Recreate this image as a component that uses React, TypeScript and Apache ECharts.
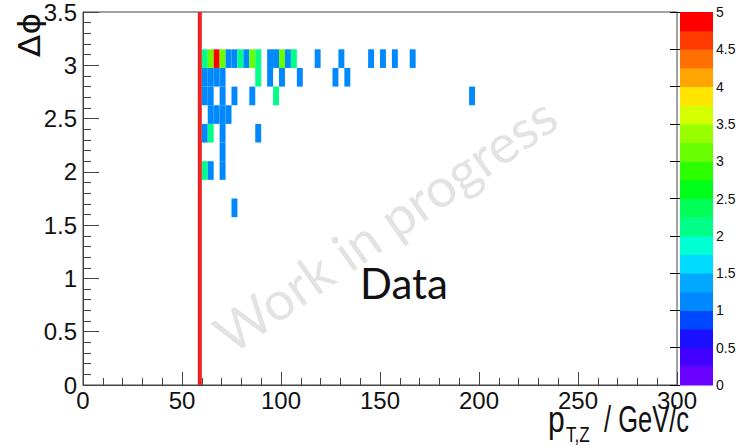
import React, { useEffect, useRef } from "react";
import * as echarts from "echarts";

// ---- binning ----
const PT_BIN = 3; // GeV/c
const DPHI_BIN = 0.175;
const PT_MIN = 0;
const PT_MAX = 300;
const DPHI_MIN = 0;
const DPHI_MAX = 3.5;
const Z_MAX = 5;
const PT_CUT = 59;

// ---- cell contents, per delta-phi row (lower edge) ----
const dphiRows = [2.975, 2.8, 2.625, 2.45, 2.275, 2.1, 1.925, 1.575];
const ptRow0 = [60, 63, 66, 69, 72, 75, 78, 81, 84, 87, 93, 96, 99, 102, 105, 117, 129, 144, 150, 156, 165];
const nRow0 = [2, 3, 5, 3, 1, 1, 2, 1, 3, 2, 1, 1, 3, 1, 2, 1, 1, 1, 1, 1, 1];
const ptRow1 = [60, 63, 66, 69, 87, 93, 99, 108, 126, 132];
const nRow1 = [1, 1, 1, 1, 2, 1, 1, 1, 1, 1];
const ptRow2 = [60, 63, 69, 75, 84, 96, 195];
const nRow2 = [1, 1, 1, 1, 1, 2, 1];
const ptRow3 = [63, 66, 69, 72];
const nRow3 = [1, 1, 1, 1];
const ptRow4 = [60, 63, 69, 87];
const nRow4 = [1, 2, 1, 1];
const ptRow5 = [69];
const nRow5 = [1];
const ptRow6 = [60, 63, 69];
const nRow6 = [2, 1, 1];
const ptRow7 = [75];
const nRow7 = [1];
const ptRows = [ptRow0, ptRow1, ptRow2, ptRow3, ptRow4, ptRow5, ptRow6, ptRow7];
const nRows = [nRow0, nRow1, nRow2, nRow3, nRow4, nRow5, nRow6, nRow7];

// ---- colour palette (20 contour levels, 0..5) ----
const paletteColors = [
  "#6a00ff", "#4400ff", "#1a10ff", "#0048ff", "#0088ff",
  "#00a8ff", "#00dcff", "#00ffd2", "#00ff86", "#00ff58",
  "#00ff18", "#2cff00", "#6aff00", "#98ff00", "#d4ff00",
  "#ffe400", "#ffa400", "#ff7000", "#ff3a00", "#ff0000",
];

const LABEL_FONT = "'Liberation Sans Narrow', 'Liberation Sans', Arial, sans-serif";
const TITLE_FONT = "'Liberation Sans', Arial, sans-serif";

function colorFor(v: number): string {
  const step = Z_MAX / paletteColors.length;
  const idx = Math.min(paletteColors.length - 1, Math.max(0, Math.floor(v / step + 1e-9)));
  return paletteColors[idx];
}

export default function App() {
  const ref = useRef<HTMLDivElement>(null);
  useEffect(() => {
    if (!ref.current) return;
    const chart = echarts.init(ref.current, undefined, { renderer: "svg" });

    const heatData: number[][] = [];
    dphiRows.forEach((dphi, r) => {
      ptRows[r].forEach((pt, k) => heatData.push([pt, dphi, nRows[r][k]]));
    });
    const barStep = Z_MAX / paletteColors.length;
    const barData = paletteColors.map((_, i) => [0, i * barStep]);

    const axisColor = "#444";
    const option: any = {
      animation: false,
      grid: [
        { left: 83, top: 12, width: 594, height: 373, show: true, borderColor: axisColor, borderWidth: 1, backgroundColor: "transparent" },
        { left: 680, top: 12, width: 33, height: 373 },
      ],
      xAxis: [
        {
          gridIndex: 0, type: "value", min: PT_MIN, max: PT_MAX, interval: 50,
          axisLine: { show: true, onZero: false, lineStyle: { color: axisColor, width: 1 } },
          axisTick: { show: true, inside: true, length: 13, lineStyle: { color: axisColor } },
          minorTick: { show: true, splitNumber: 5, length: 7, lineStyle: { color: axisColor } },
          splitLine: { show: false },
          axisLabel: { color: "#111", fontSize: 24, fontFamily: LABEL_FONT, margin: 3 },
        },
        { gridIndex: 1, type: "value", min: 0, max: 1, show: false },
      ],
      yAxis: [
        {
          gridIndex: 0, type: "value", min: DPHI_MIN, max: DPHI_MAX, interval: 0.5,
          axisLine: { show: true, onZero: false, lineStyle: { color: axisColor, width: 1 } },
          axisTick: { show: true, inside: true, length: 16, lineStyle: { color: axisColor } },
          minorTick: { show: true, splitNumber: 5, length: 8, lineStyle: { color: axisColor } },
          splitLine: { show: false },
          axisLabel: { color: "#111", fontSize: 24, fontFamily: LABEL_FONT, margin: 6 },
        },
        {
          gridIndex: 1, type: "value", position: "right", min: 0, max: Z_MAX, interval: 0.5,
          axisLine: { show: false },
          axisTick: { show: true, inside: true, length: 10, lineStyle: { color: "#000" } },
          splitLine: { show: false },
          axisLabel: { color: "#111", fontSize: 14, fontFamily: LABEL_FONT, margin: 3 },
        },
      ],
      series: [
        {
          type: "custom",
          xAxisIndex: 0, yAxisIndex: 0,
          data: heatData,
          encode: { x: 0, y: 1 },
          z: 2,
          renderItem: (params: any, api: any) => {
            const x0 = api.value(0);
            const y0 = api.value(1);
            const v = api.value(2);
            const p1 = api.coord([x0, y0 + DPHI_BIN]);
            const p2 = api.coord([x0 + PT_BIN, y0]);
            return {
              type: "rect",
              shape: { x: p1[0], y: p1[1], width: p2[0] - p1[0], height: p2[1] - p1[1] },
              style: { fill: colorFor(v), stroke: null },
            };
          },
        },
        {
          type: "custom",
          xAxisIndex: 1, yAxisIndex: 1,
          data: barData,
          encode: { x: 0, y: 1 },
          renderItem: (params: any, api: any) => {
            const lo = api.value(1);
            const p1 = api.coord([0, lo + barStep]);
            const p2 = api.coord([1, lo]);
            return {
              type: "rect",
              shape: { x: p1[0], y: p1[1], width: p2[0] - p1[0], height: p2[1] - p1[1] + 0.5 },
              style: { fill: paletteColors[params.dataIndex] },
            };
          },
        },
        {
          type: "line",
          xAxisIndex: 0, yAxisIndex: 0,
          data: [[PT_CUT, DPHI_MIN], [PT_CUT, DPHI_MAX]],
          symbol: "none",
          z: 5,
          lineStyle: { color: "#ee2222", width: 4 },
        },
      ],
      graphic: [
        {
          type: "text", x: 385, y: 224, rotation: 0.61, z: 0,
          style: { text: "Work in progress", fontSize: 54, fontFamily: "Lato, 'Open Sans', sans-serif", fill: "rgba(170,170,170,0.33)", textAlign: "center", textVerticalAlign: "middle" },
        },
        {
          type: "text", x: 404, y: 283, z: 100,
          style: { text: "Data", fontSize: 42, fontFamily: "Lato, 'Open Sans', sans-serif", fill: "#111", textAlign: "center", textVerticalAlign: "middle" },
        },
        {
          type: "text", x: 30, y: 35, rotation: Math.PI / 2, z: 100, scaleX: 1.1,
          style: { text: "Δϕ", fontSize: 30, fontFamily: "'DejaVu Sans', 'Liberation Sans', sans-serif", fill: "#111", textAlign: "center", textVerticalAlign: "middle" },
        },
        {
          type: "text", x: 548, y: 438, z: 100, scaleY: 1.2,
          style: { text: "p", fontSize: 30, fontFamily: TITLE_FONT, fill: "#111", textAlign: "left", textVerticalAlign: "bottom" },
        },
        {
          type: "text", x: 566, y: 445, z: 100, scaleY: 1.2, scaleX: 0.95,
          style: { text: "T,Z", fontSize: 18, fontFamily: TITLE_FONT, fill: "#111", textAlign: "left", textVerticalAlign: "bottom" },
        },
        {
          type: "text", x: 604, y: 438, z: 100, scaleY: 1.2, scaleX: 0.85,
          style: { text: "/ GeV/c", fontSize: 30, fontFamily: TITLE_FONT, fill: "#111", textAlign: "left", textVerticalAlign: "bottom" },
        },
      ],
    };
    chart.setOption(option);
    return () => chart.dispose();
  }, []);
  return <div ref={ref} style={{ position: "fixed", left: 0, top: 0, width: 740, height: 445, background: "#fff" }} />;
}
